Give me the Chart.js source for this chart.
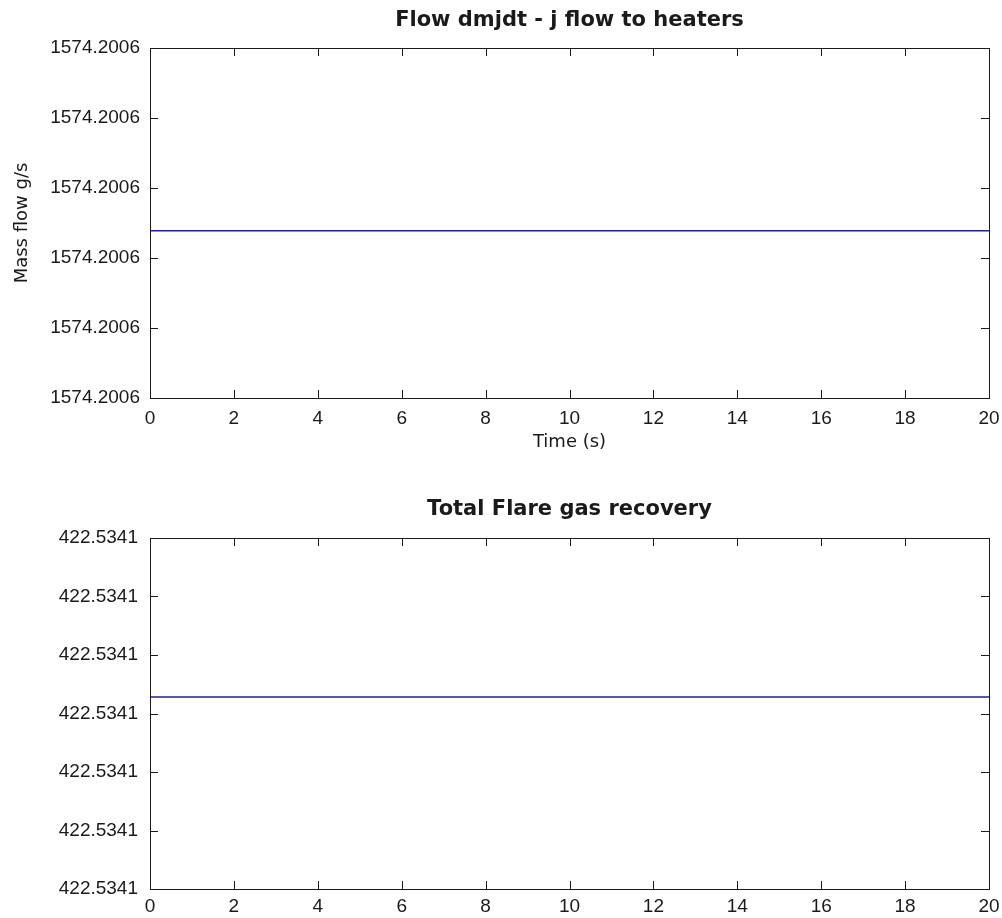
<!DOCTYPE html>
<html lang="en">
<head>
  <meta charset="UTF-8">
  <title>Flow dmjdt - j flow to heaters / Total Flare gas recovery</title>
  <style>
    html, body { margin: 0; padding: 0; background: #fff; }
    .plot { position: absolute; left: 0; width: 1002px; height: 459px; }
    #top { top: 0; }
    #bottom { top: 459px; }
  </style>
</head>
<body>
  <div class="plot" id="top"><canvas id="flowChart"></canvas></div>
  <div class="plot" id="bottom"><canvas id="recoveryChart"></canvas></div>

  <script src="https://cdn.jsdelivr.net/npm/chart.js"></script>
  <script>
    // time samples (s)
    const timeS = [0, 5, 10, 15, 20];
    const xTicks = [0, 2, 4, 6, 8, 10, 12, 14, 16, 18, 20];

    // j flow to heaters (g/s) - constant over the run
    const flowToHeaters = [1574.2005839, 1574.2005839, 1574.2005839, 1574.2005839, 1574.2005839];
    const flowTicks = [1574.20056, 1574.20057, 1574.20058, 1574.20059, 1574.20060, 1574.20061];

    // total flare gas recovery - constant over the run
    const flareRecovery = [422.5340928, 422.5340928, 422.5340928, 422.5340928, 422.5340928];
    const recoveryTicks = [422.53406, 422.53407, 422.53408, 422.53409, 422.53410, 422.53411, 422.53412];

    const ink = '#1a1a1a';
    const lineBlue = '#1f1f92';
    const TICK_FONT = '"Liberation Sans", Arial, sans-serif';
    const LABEL_FONT = '"DejaVu Sans", sans-serif';

    // MATLAB style box with inward ticks on all four sides
    const boxAxes = {
      id: 'boxAxes',
      afterDraw(chart) {
        const { ctx, chartArea: a, scales } = chart;
        const len = 8;
        ctx.save();
        ctx.strokeStyle = ink;
        ctx.lineWidth = 1;
        ctx.beginPath();
        scales.x.ticks.forEach(t => {
          const px = Math.round(scales.x.getPixelForValue(t.value)) + 0.5;
          ctx.moveTo(px, a.bottom); ctx.lineTo(px, a.bottom - len);
          ctx.moveTo(px, a.top); ctx.lineTo(px, a.top + len);
        });
        scales.y.ticks.forEach(t => {
          const py = Math.round(scales.y.getPixelForValue(t.value)) + 0.5;
          ctx.moveTo(a.left, py); ctx.lineTo(a.left + len, py);
          ctx.moveTo(a.right, py); ctx.lineTo(a.right - len, py);
        });
        ctx.stroke();
        ctx.strokeRect(Math.round(a.left) + 0.5, Math.round(a.top) + 0.5,
          Math.round(a.right - a.left), Math.round(a.bottom - a.top));
        ctx.restore();
      }
    };

    function makeChart(id, cfg) {
      return new Chart(document.getElementById(id), {
        type: 'line',
        data: {
          datasets: [{
            data: timeS.map((t, i) => ({ x: t, y: cfg.values[i] })),
            borderColor: lineBlue,
            borderWidth: 1.5,
            pointRadius: 0,
            fill: false,
            tension: 0
          }]
        },
        options: {
          responsive: true,
          maintainAspectRatio: false,
          animation: false,
          layout: { padding: { left: 0, right: 13, top: 0, bottom: 0 } },
          plugins: {
            legend: { display: false },
            tooltip: { enabled: false },
            title: {
              display: true,
              fullSize: false,
              text: cfg.title,
              color: ink,
              font: { family: LABEL_FONT, size: 21, weight: 'bold' },
              padding: cfg.titlePad
            }
          },
          scales: {
            x: {
              type: 'linear',
              min: 0,
              max: 20,
              afterBuildTicks: s => { s.ticks = xTicks.map(v => ({ value: v })); },
              afterFit: s => { s.height = cfg.xHeight; s.paddingLeft = 0; s.paddingRight = 13; },
              grid: { display: false, drawTicks: false },
              border: { display: false },
              ticks: {
                color: ink,
                padding: cfg.xTickPad,
                maxRotation: 0,
                font: { family: TICK_FONT, size: 19 },
                callback: v => String(v)
              },
              title: {
                display: !!cfg.xTitle,
                text: cfg.xTitle || '',
                color: ink,
                font: { family: LABEL_FONT, size: 18 },
                padding: { top: 0, bottom: 6 }
              }
            },
            y: {
              type: 'linear',
              min: cfg.ticks[0],
              max: cfg.ticks[cfg.ticks.length - 1],
              afterBuildTicks: s => { s.ticks = cfg.ticks.map(v => ({ value: v })); },
              afterFit: s => { s.width = 150; },
              grid: { display: false, drawTicks: false },
              border: { display: false },
              ticks: {
                color: ink,
                padding: cfg.yTickPad,
                font: { family: TICK_FONT, size: 19 },
                callback: v => Number(v).toFixed(4)
              },
              title: {
                display: !!cfg.yTitle,
                text: cfg.yTitle || '',
                color: ink,
                font: { family: LABEL_FONT, size: 18 },
                padding: { top: 12, bottom: 0 }
              }
            }
          }
        },
        plugins: [boxAxes]
      });
    }

    makeChart('flowChart', {
      title: 'Flow dmjdt - j flow to heaters',
      titlePad: { top: 8.1, bottom: 14.7 },
      values: flowToHeaters,
      ticks: flowTicks,
      xHeight: 61,
      xTickPad: 9,
      yTickPad: 10,
      xTitle: 'Time (s)',
      yTitle: 'Mass flow g/s'
    });

    makeChart('recoveryChart', {
      title: 'Total Flare gas recovery',
      titlePad: { top: 37.5, bottom: 16.3 },
      values: flareRecovery,
      ticks: recoveryTicks,
      xHeight: 29,
      xTickPad: 6,
      yTickPad: 12
    });
  </script>
</body>
</html>
